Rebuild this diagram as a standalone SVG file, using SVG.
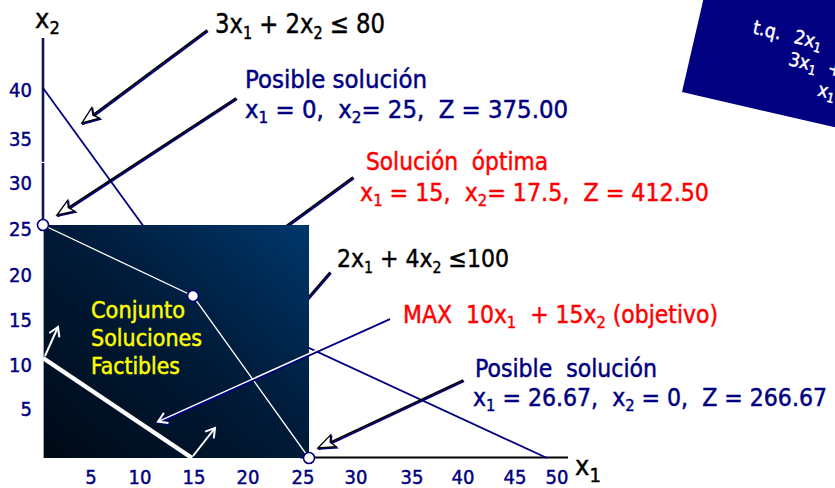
<svg xmlns="http://www.w3.org/2000/svg" width="835" height="488" viewBox="0 0 835 488">
<style>
.t{font-family:"DejaVu Sans Condensed","DejaVu Sans",sans-serif;white-space:pre;stroke-width:0.45px}
.navy{fill:#000080;stroke:#000080}.red{fill:#ff0000;stroke:#ff0000}.blk{fill:#000;stroke:#000}.yel{fill:#ffff00;stroke:#ffff00}.wht{fill:#fff;stroke:#fff}
.tick{font-size:20px;fill:#000080;stroke:#000080}
.ptr{stroke:#000;stroke-width:1.6;fill:none;marker-end:url(#headOpen)}
.ptrS{stroke:#000080;stroke-width:2;fill:none;marker-end:url(#headShadow)}
.cline{stroke:#000080;stroke-width:1.8;fill:none}
.wline{stroke:#fff;fill:none}
.pt{fill:#fff;stroke:#000080;stroke-width:1.6}
</style>
<defs>
<linearGradient id="sqGrad" x1="1" y1="0" x2="0" y2="1">
<stop offset="0" stop-color="#00376b"/>
<stop offset="0.45" stop-color="#001c3b"/>
<stop offset="1" stop-color="#000915"/>
</linearGradient>
<marker id="headOpen" markerUnits="userSpaceOnUse" viewBox="-2 -9 22 18" markerWidth="22" markerHeight="18" refX="17" refY="0" orient="auto">
<path d="M17,0 L0,-6.5 L3.5,0 L0,6.5 Z" fill="#fff" stroke="#000" stroke-width="1.3"/>
</marker>
<marker id="headShadow" markerUnits="userSpaceOnUse" viewBox="-2 -9 22 18" markerWidth="22" markerHeight="18" refX="17" refY="0" orient="auto">
<path d="M17,0 L0,-6.5 L3.5,0 L0,6.5 Z" fill="#000080" stroke="#000080" stroke-width="1.3"/>
</marker>
<marker id="headV" markerUnits="userSpaceOnUse" viewBox="-2 -8 14 16" markerWidth="14" markerHeight="16" refX="9" refY="0" orient="auto">
<path d="M0,-5.5 L9,0 L0,5.5" fill="none" stroke="#fff" stroke-width="2"/>
</marker>
<marker id="headVS" markerUnits="userSpaceOnUse" viewBox="-2 -8 14 16" markerWidth="14" markerHeight="16" refX="9" refY="0" orient="auto">
<path d="M0,-5.5 L9,0 L0,5.5" fill="none" stroke="#000080" stroke-width="2"/>
</marker>
</defs>

<!-- constraint box top-right -->
<g id="constraints-box" transform="translate(682,92) rotate(13)">
<rect x="0" y="-220" width="320" height="220" fill="#000080"/>
<text class="t wht" x="55" y="-73" font-size="19">t.q.</text>
<text class="t wht" x="97" y="-73" font-size="19">2x<tspan font-size="13" dy="4">1</tspan></text>
<text class="t wht" x="97" y="-50" font-size="19">3x<tspan font-size="13" dy="4">1</tspan></text>
<text class="t wht" x="137" y="-50" font-size="19">+</text>
<text class="t wht" x="132" y="-27" font-size="19">x<tspan font-size="13" dy="4">1</tspan></text>
</g>

<!-- axes and constraint lines (behind feasible region) -->
<g id="axes">
<line x1="43" y1="38" x2="43" y2="226" stroke="#121262" stroke-width="2.6"/>
<line x1="300" y1="457.5" x2="568" y2="457.5" stroke="#000" stroke-width="2"/>
<rect x="38" y="161.8" width="108" height="1.2" fill="#fff"/>
</g>
<g id="constraint-lines">
<line class="cline" x1="43" y1="88" x2="312" y2="458"/>
<line class="cline" x1="43" y1="225" x2="547" y2="458"/>
</g>

<!-- hidden pointers (behind region) -->
<g id="connectors-hidden">
<path class="ptrS" d="M354,178.2 L206,286.2"/>
<path class="ptr" d="M353,177 L205,285"/>
<path class="ptrS" d="M331,273.2 L281,331.2"/>
<path class="ptr" d="M330,272 L280,330"/>
</g>

<!-- feasible region -->
<g id="feasible-region">
<rect x="43" y="225" width="266" height="233" fill="url(#sqGrad)"/>
<line x1="43.5" y1="226" x2="43.5" y2="458" stroke="#9aa3b0" stroke-width="1"/>
<polyline class="wline" stroke-width="1.3" points="43,225 193,296 309,458"/>
<line class="wline" stroke-width="4.5" x1="43" y1="358" x2="192" y2="458"/>
<text class="t yel" x="91" y="318" font-size="23" textLength="94" lengthAdjust="spacingAndGlyphs">Conjunto</text>
<text class="t yel" x="91" y="346" font-size="23" textLength="111" lengthAdjust="spacingAndGlyphs">Soluciones</text>
<text class="t yel" x="91" y="374" font-size="23" textLength="89" lengthAdjust="spacingAndGlyphs">Factibles</text>
</g>

<g id="vertices">
<circle id="v-0-25" class="pt" cx="43" cy="225" r="5.5"/>
<circle id="v-15-17_5" class="pt" cx="193" cy="296" r="5.5"/>
<circle id="v-25-0" class="pt" cx="309" cy="458" r="5.5"/>
</g>

<!-- visible connectors -->
<g id="connectors">
<path class="ptrS" d="M208,31.2 L83,124.2"/>
<path class="ptr" d="M207,30 L82,123"/>
<path class="ptrS" d="M237,99.2 L58,216.2"/>
<path class="ptr" d="M236,98 L57,215"/>
<path class="ptrS" d="M464,381.2 L319,449.2"/>
<path class="ptr" d="M463,380 L318,448"/>
<path d="M390,319 L159,423" stroke="#000080" stroke-width="2" fill="none" marker-end="url(#headVS)"/>
<path d="M389,317.6 L158,421.6" stroke="#fff" stroke-width="1.4" fill="none" marker-end="url(#headV)"/>
<path d="M45,356 L58,327" stroke="#fff" stroke-width="2" fill="none" marker-end="url(#headV)"/>
<path d="M193,456 L215,428" stroke="#fff" stroke-width="2" fill="none" marker-end="url(#headV)"/>
</g>

<!-- axis labels -->
<g id="axis-labels">
<text class="t blk" x="35" y="28" font-size="27">x<tspan font-size="18" dy="6">2</tspan></text>
<text class="t blk" x="575" y="475" font-size="27">x<tspan font-size="20" dy="7">1</tspan></text>
<g class="t tick" text-anchor="end">
<text x="32" y="97">40</text>
<text x="32" y="146">35</text>
<text x="32" y="190">30</text>
<text x="32" y="236">25</text>
<text x="32" y="282">20</text>
<text x="32" y="327">15</text>
<text x="32" y="372">10</text>
<text x="32" y="416">5</text>
</g>
<g class="t tick" text-anchor="middle">
<text x="91" y="484">5</text>
<text x="140" y="484">10</text>
<text x="194" y="484">15</text>
<text x="248" y="484">20</text>
<text x="303" y="484">25</text>
<text x="356" y="484">30</text>
<text x="412" y="484">35</text>
<text x="463" y="484">40</text>
<text x="515" y="484">45</text>
<text x="557" y="484">50</text>
</g>
</g>

<!-- annotations -->
<g id="label-c1">
<text class="t blk" x="215" y="33" font-size="27" textLength="170" lengthAdjust="spacingAndGlyphs">3x<tspan font-size="17" dy="6">1</tspan><tspan dy="-6"> + 2x</tspan><tspan font-size="17" dy="6">2</tspan><tspan dy="-6"> ≤ 80</tspan></text>
</g>
<g id="label-sol-a">
<text class="t navy" x="245" y="88" font-size="24" textLength="182" lengthAdjust="spacingAndGlyphs">Posible solución</text>
<text class="t navy" x="245" y="118" font-size="24" textLength="323" lengthAdjust="spacingAndGlyphs">x<tspan font-size="16" dy="5">1</tspan><tspan dy="-5"> = 0,  x</tspan><tspan font-size="16" dy="5">2</tspan><tspan dy="-5">= 25,  Z = 375.00</tspan></text>
</g>
<g id="label-optimal">
<text class="t red" x="366" y="170" font-size="24" textLength="182" lengthAdjust="spacingAndGlyphs">Solución  óptima</text>
<text class="t red" x="360" y="201" font-size="24" textLength="349" lengthAdjust="spacingAndGlyphs">x<tspan font-size="16" dy="5">1</tspan><tspan dy="-5"> = 15,  x</tspan><tspan font-size="16" dy="5">2</tspan><tspan dy="-5">= 17.5,  Z = 412.50</tspan></text>
</g>
<g id="label-c2">
<text class="t blk" x="337" y="267" font-size="25" textLength="172" lengthAdjust="spacingAndGlyphs">2x<tspan font-size="16" dy="6">1</tspan><tspan dy="-6"> + 4x</tspan><tspan font-size="16" dy="6">2</tspan><tspan dy="-6"> ≤100</tspan></text>
</g>
<g id="label-objective">
<text class="t red" x="403" y="323" font-size="24" textLength="315" lengthAdjust="spacingAndGlyphs">MAX  10x<tspan font-size="16" dy="5">1</tspan><tspan dy="-5">  + 15x</tspan><tspan font-size="16" dy="5">2</tspan><tspan dy="-5"> (objetivo)</tspan></text>
</g>
<g id="label-sol-b">
<text class="t navy" x="475" y="377" font-size="24" textLength="182" lengthAdjust="spacingAndGlyphs">Posible  solución</text>
<text class="t navy" x="473" y="406" font-size="24" textLength="354" lengthAdjust="spacingAndGlyphs">x<tspan font-size="16" dy="5">1</tspan><tspan dy="-5"> = 26.67,  x</tspan><tspan font-size="16" dy="5">2</tspan><tspan dy="-5"> = 0,  Z = 266.67</tspan></text>
</g>
</svg>
